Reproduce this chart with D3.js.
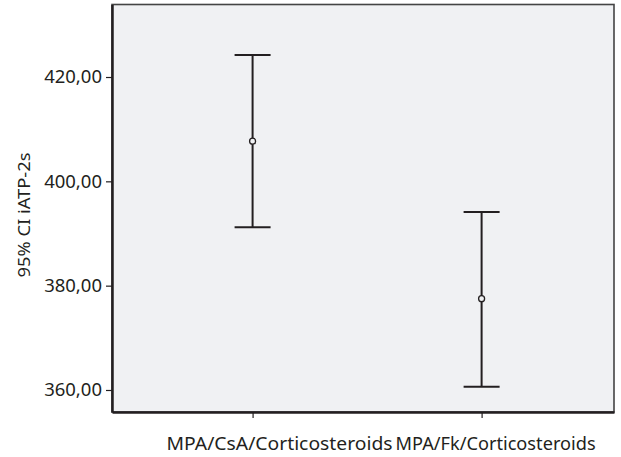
<!DOCTYPE html>
<html>
<head>
<meta charset="utf-8">
<script src="https://cdn.jsdelivr.net/npm/d3@7"></script>
<style>
  body { margin: 0; background: #fff; }
  text { font-family: "Noto Sans", "Open Sans", sans-serif; fill: #231f20; }
</style>
</head>
<body>
<svg id="chart"></svg>
<script>
const groups = ["MPA/CsA/Corticosteroids", "MPA/Fk/Corticosteroids"]
const labelWidths = [226, 200]
const means = [407.7, 377.5]
const lower = [391.2, 360.6]
const upper = [424.2, 394.1]
const yTicks = [360, 380, 400, 420]

const width = 621,
    height = 457

const svg = d3.select("#chart")
    .attr("width", width)
    .attr("height", height)

const plotLeft = 112, plotRight = 614, plotTop = 4.5, plotBottom = 412

const x = d3.scalePoint()
    .domain(groups)
    .range([plotLeft, plotRight])
    .padding(0.596)
    .align(0.515)

const y = d3.scaleLinear()
    .domain([355.78, 433.9])
    .range([plotBottom, plotTop])

// plot background
svg.append("rect")
    .attr("x", plotLeft)
    .attr("y", plotTop)
    .attr("width", plotRight - plotLeft)
    .attr("height", plotBottom - plotTop)
    .attr("fill", "#f0f1f3")
    .attr("stroke", "#444")
    .attr("stroke-width", 1.6)

const fmt = d => d3.format(".2f")(d).replace(".", ",")

// y axis
const yAxis = svg.append("g")
    .attr("transform", "translate(" + plotLeft + ",0)")
    .call(d3.axisLeft(y).tickValues(yTicks).tickFormat(fmt).tickSize(6).tickSizeOuter(0).tickPadding(4))
yAxis.select(".domain").attr("stroke", "#231f20").attr("stroke-width", 2.5)
yAxis.selectAll(".tick line").attr("stroke", "#231f20").attr("stroke-width", 1.2)
yAxis.selectAll("text").attr("font-size", 18.5).style("fill", "#231f20")

// x axis
const xAxis = svg.append("g")
    .attr("transform", "translate(0," + plotBottom + ")")
    .call(d3.axisBottom(x).tickSize(6).tickSizeOuter(0).tickFormat(""))
xAxis.select(".domain").attr("stroke", "#231f20").attr("stroke-width", 2.5)
xAxis.selectAll(".tick line").attr("stroke", "#231f20").attr("stroke-width", 1.2)

// x labels (start-anchored a bit left of each tick, as in the source)
svg.append("g")
    .selectAll("text")
    .data(groups)
    .join("text")
    .attr("x", d => x(d) - 86)
    .attr("y", 450)
    .attr("font-size", 18.5)
    .attr("textLength", (d, i) => labelWidths[i])
    .attr("lengthAdjust", "spacingAndGlyphs")
    .text(d => d)

// y title
svg.append("text")
    .attr("transform", "translate(30,215) rotate(-90)")
    .attr("text-anchor", "middle")
    .attr("font-size", 17)
    .attr("textLength", 125)
    .attr("lengthAdjust", "spacingAndGlyphs")
    .text("95% CI iATP-2s")

// error bars
const bars = svg.append("g")
    .selectAll("g")
    .data(groups)
    .join("g")

bars.append("line")
    .attr("x1", d => x(d)).attr("x2", d => x(d))
    .attr("y1", (d, i) => y(upper[i]))
    .attr("y2", (d, i) => y(lower[i]))
    .attr("stroke", "#231f20").attr("stroke-width", 2)

bars.selectAll(".cap")
    .data((d, i) => [upper[i], lower[i]].map(v => ({ g: d, v: v })))
    .join("line")
    .attr("class", "cap")
    .attr("x1", d => x(d.g) - 18).attr("x2", d => x(d.g) + 18)
    .attr("y1", d => y(d.v)).attr("y2", d => y(d.v))
    .attr("stroke", "#231f20").attr("stroke-width", 2)

bars.append("circle")
    .attr("cx", d => x(d))
    .attr("cy", (d, i) => y(means[i]))
    .attr("r", 3)
    .attr("fill", "#f0f1f3")
    .attr("stroke", "#231f20")
    .attr("stroke-width", 1.3)
</script>
</body>
</html>
